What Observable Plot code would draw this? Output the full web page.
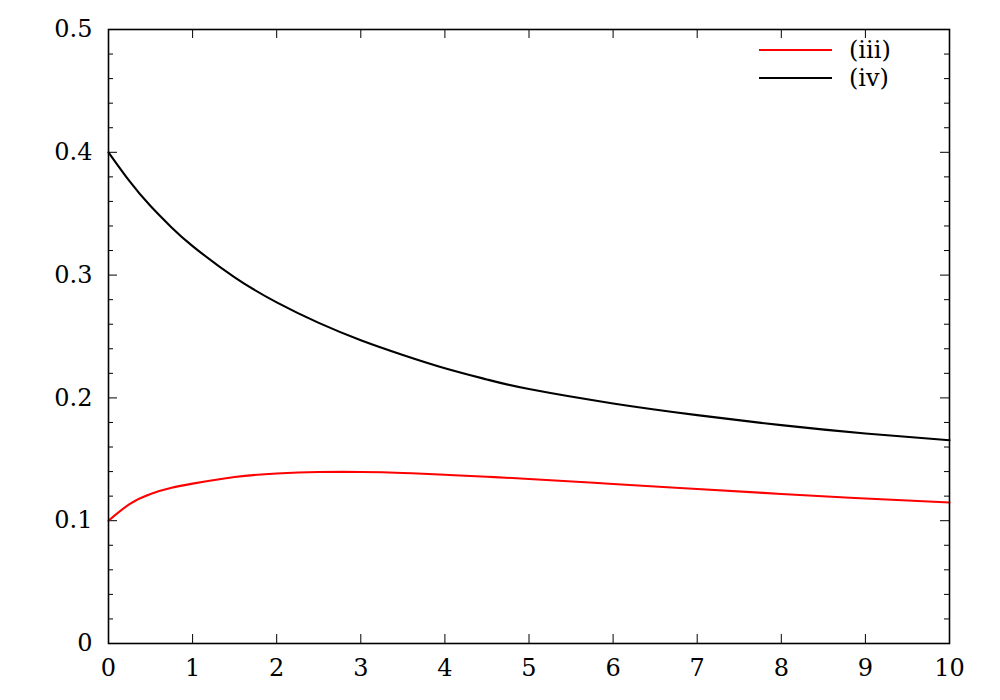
<!DOCTYPE html>
<html>
<head>
<meta charset="utf-8">
<script src="https://cdn.jsdelivr.net/npm/d3@7"></script>
<script src="https://cdn.jsdelivr.net/npm/@observablehq/plot@0.6"></script>
<style>
  html, body { margin: 0; padding: 0; background: #fff; }
  #wrap { position: relative; width: 1000px; height: 700px; font-family: "DejaVu Serif", serif; }
  #legend { position: absolute; left: 759px; top: 36px; font-size: 24px; line-height: 28px; color: #000; font-family: "DejaVu Serif", serif; }
  #legend .item { display: flex; align-items: center; height: 28px; }
  #legend svg { display: block; margin-right: 17px; }
</style>
</head>
<body>
<div id="wrap"><div id="legend"></div></div>
<script>
// Series data (x, y)
const xs = [0, 0.25, 0.5, 0.75, 1, 1.5, 2, 2.5, 3, 3.5, 4, 4.5, 5, 6, 7, 8, 9, 10];
const seriesIII = [0.100, 0.1135, 0.1218, 0.1268, 0.1302, 0.1356, 0.1384, 0.1396, 0.1397, 0.1389, 0.1374, 0.1358, 0.1340, 0.1299, 0.1258, 0.1218, 0.1181, 0.1148];
const seriesIV  = [0.400, 0.3765, 0.3562, 0.3388, 0.3236, 0.2982, 0.2778, 0.2611, 0.2470, 0.2350, 0.2242, 0.2150, 0.2072, 0.1955, 0.1860, 0.1778, 0.1710, 0.1655];
const seriesNames = ["(iii)", "(iv)"];
const seriesColors = ["#ff0000", "#000000"];

const xTicks = [0, 1, 2, 3, 4, 5, 6, 7, 8, 9, 10];
const yTicks = [0, 0.1, 0.2, 0.3, 0.4, 0.5];
const yMinorTicks = d3.range(0, 51, 2).map(v => v / 100).filter(v => !yTicks.some(t => Math.abs(t - v) < 1e-9));

const data = [];
xs.forEach((x, i) => {
  data.push({x, y: seriesIII[i], s: seriesNames[0]});
  data.push({x, y: seriesIV[i], s: seriesNames[1]});
});

const W = 1000, H = 700, mL = 108, mR = 51, mT = 29, mB = 57;
const pw = W - mL - mR, ph = H - mT - mB;
const major = 9, minor = 5;

const chart = Plot.plot({
  width: W, height: H,
  marginLeft: mL, marginRight: mR, marginTop: mT, marginBottom: mB,
  style: {fontFamily: "'DejaVu Serif', serif", fontSize: "24px", color: "#000", background: "#fff"},
  x: {domain: [0, 10]},
  y: {domain: [0, 0.5]},
  color: {domain: seriesNames, range: seriesColors},
  marks: [
    Plot.axisX({anchor: "bottom", ticks: xTicks, tickSize: 0, tickPadding: 15, label: null, tickFormat: d => String(d)}),
    Plot.axisY({anchor: "left", ticks: yTicks, tickSize: 0, tickPadding: 16, label: null, tickFormat: d => d === 0 ? "0" : d.toFixed(1)}),
    // inward ticks on all four sides
    Plot.tickX(xTicks, {x: d => d, insetTop: ph - major, stroke: "#000", strokeWidth: 1}),
    Plot.tickX(xTicks, {x: d => d, insetBottom: ph - major, stroke: "#000", strokeWidth: 1}),
    Plot.tickY(yTicks, {y: d => d, insetRight: pw - major, stroke: "#000", strokeWidth: 1}),
    Plot.tickY(yTicks, {y: d => d, insetLeft: pw - major, stroke: "#000", strokeWidth: 1}),
    Plot.tickY(yMinorTicks, {y: d => d, insetRight: pw - minor, stroke: "#000", strokeWidth: 1}),
    Plot.tickY(yMinorTicks, {y: d => d, insetLeft: pw - minor, stroke: "#000", strokeWidth: 1}),
    Plot.line(data, {x: "x", y: "y", z: "s", stroke: "s", strokeWidth: 2.1, curve: "natural"}),
    Plot.frame({stroke: "#000", strokeWidth: 1.6})
  ]
});
document.getElementById("wrap").prepend(chart);

const legend = d3.select("#legend");
seriesNames.forEach((name, i) => {
  const item = legend.append("div").attr("class", "item");
  const svg = item.append("svg").attr("width", 73).attr("height", 10);
  svg.append("line").attr("x1", 0).attr("x2", 73).attr("y1", 5).attr("y2", 5)
    .attr("stroke", seriesColors[i]).attr("stroke-width", 2);
  item.append("span").text(name);
});
</script>
</body>
</html>
